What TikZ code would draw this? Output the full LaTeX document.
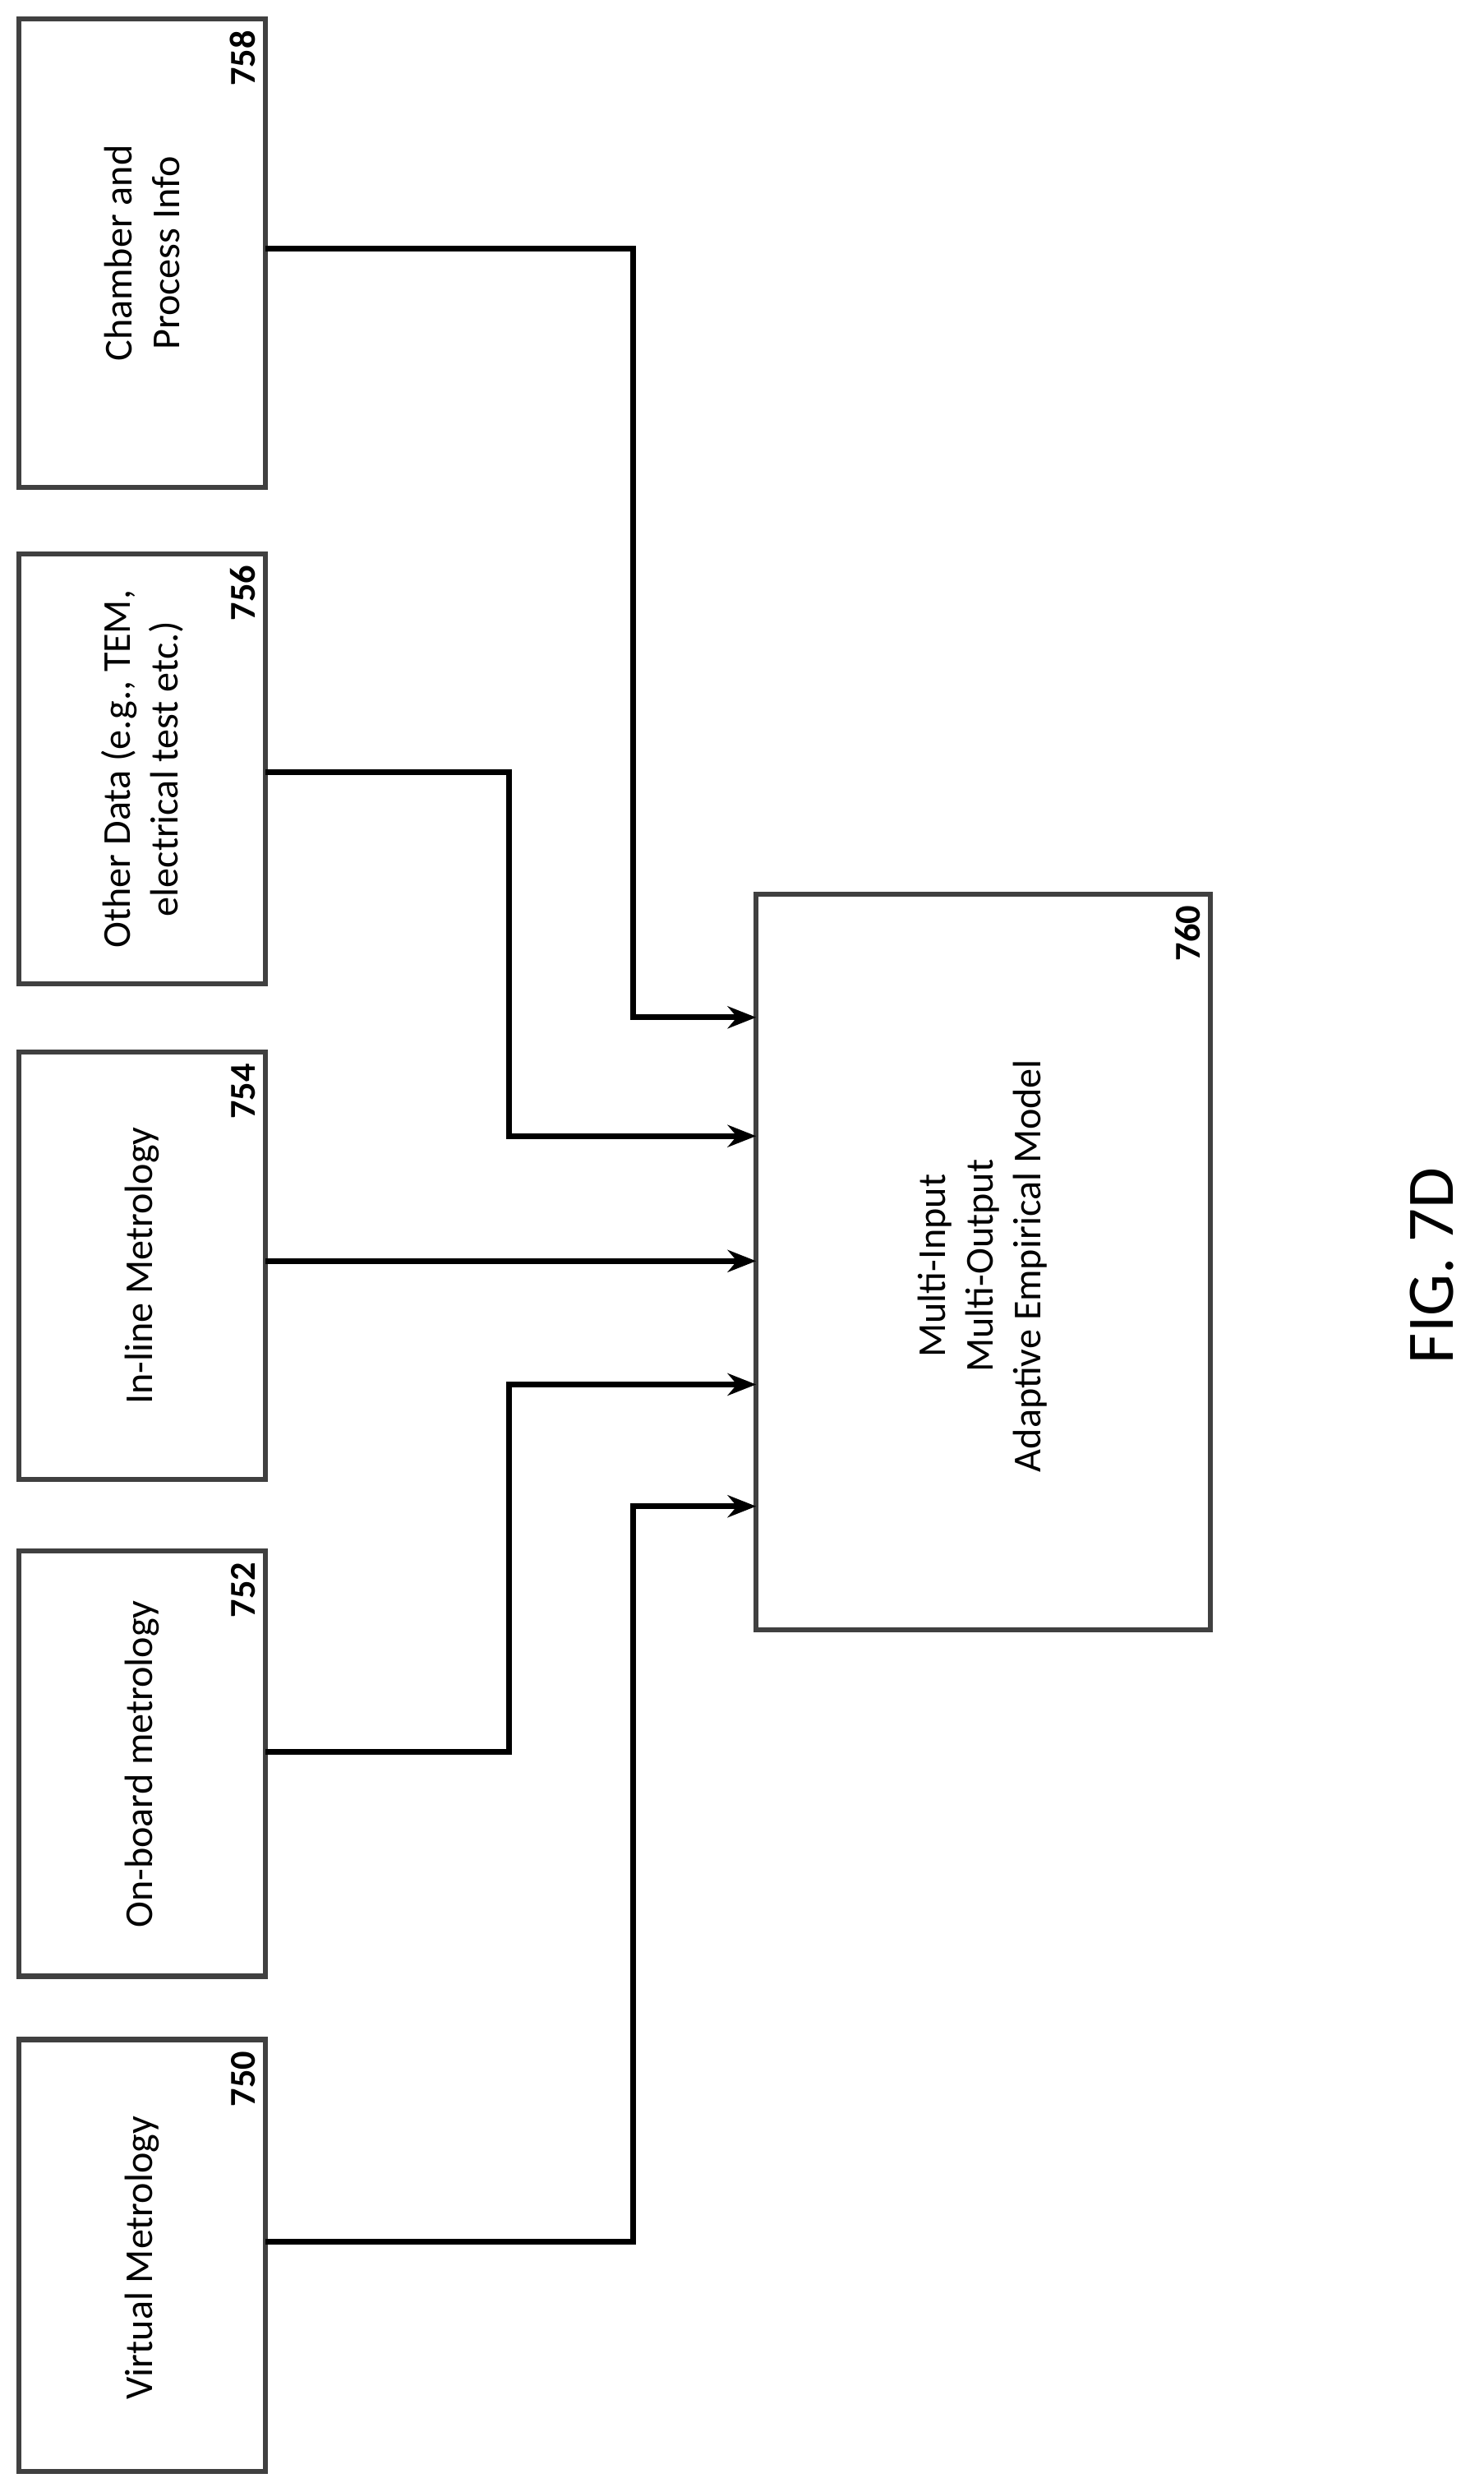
\documentclass[tikz,border=0pt]{standalone}
\usepackage{fontspec}
\setmainfont{Carlito}
\usetikzlibrary{arrows.meta}
\begin{document}
\begin{tikzpicture}[x=0.5pt,y=-0.5pt,
 box/.style={draw=black!75,line width=1.6pt},
 lbl/.style={rotate=90,font=\fontsize{12.5}{15}\selectfont,align=center},
 num/.style={rotate=90,font=\bfseries\fontsize{11.5}{13}\selectfont,anchor=south east,inner sep=2.5pt},
 con/.style={line width=1.8pt,-{Stealth[length=9pt,width=7pt]}}]
\useasboundingbox (0,0) rectangle (938,1575);
\draw[box] (12,12) rectangle (168,308);
\node[lbl] (t758) at (90,160) {Chamber and\\Process Info};
\node[num] (n758) at (167,14) {758};
\draw[box] (12,350) rectangle (168,622);
\node[lbl] (t756) at (90,486) {Other Data (e.g., TEM,\\electrical test etc.)};
\node[num] (n756) at (167,352) {756};
\draw[box] (12,665) rectangle (168,935);
\node[lbl] (t754) at (90,800) {In-line Metrology};
\node[num] (n754) at (167,667) {754};
\draw[box] (12,980) rectangle (168,1249);
\node[lbl] (t752) at (90,1115) {On-board metrology};
\node[num] (n752) at (167,982) {752};
\draw[box] (12,1289) rectangle (168,1562);
\node[lbl] (t750) at (90,1427) {Virtual Metrology};
\node[num] (n750) at (167,1291) {750};
\draw[box] (478,565) rectangle (765,1030);
\node[lbl] (t760) at (621,800) {Multi-Input\\Multi-Output\\Adaptive Empirical Model};
\node[num] (n760) at (764,567) {760};
\node[rotate=90,font=\fontsize{21}{25}\selectfont] (fig) at (905,800) {FIG. 7D};
\coordinate (s758) at (168,157); \coordinate (e758) at (478,643);
\coordinate (s756) at (168,488); \coordinate (e756) at (478,718);
\coordinate (s754) at (168,797); \coordinate (e754) at (478,797);
\coordinate (s752) at (168,1107); \coordinate (e752) at (478,875);
\coordinate (s750) at (168,1417); \coordinate (e750) at (478,952);
\draw[con] (s758) -| (400,643) -- (e758);
\draw[con] (s756) -| (322,718) -- (e756);
\draw[con] (s754) -- (e754);
\draw[con] (s752) -| (322,875) -- (e752);
\draw[con] (s750) -| (400,952) -- (e750);
\end{tikzpicture}
\end{document}
